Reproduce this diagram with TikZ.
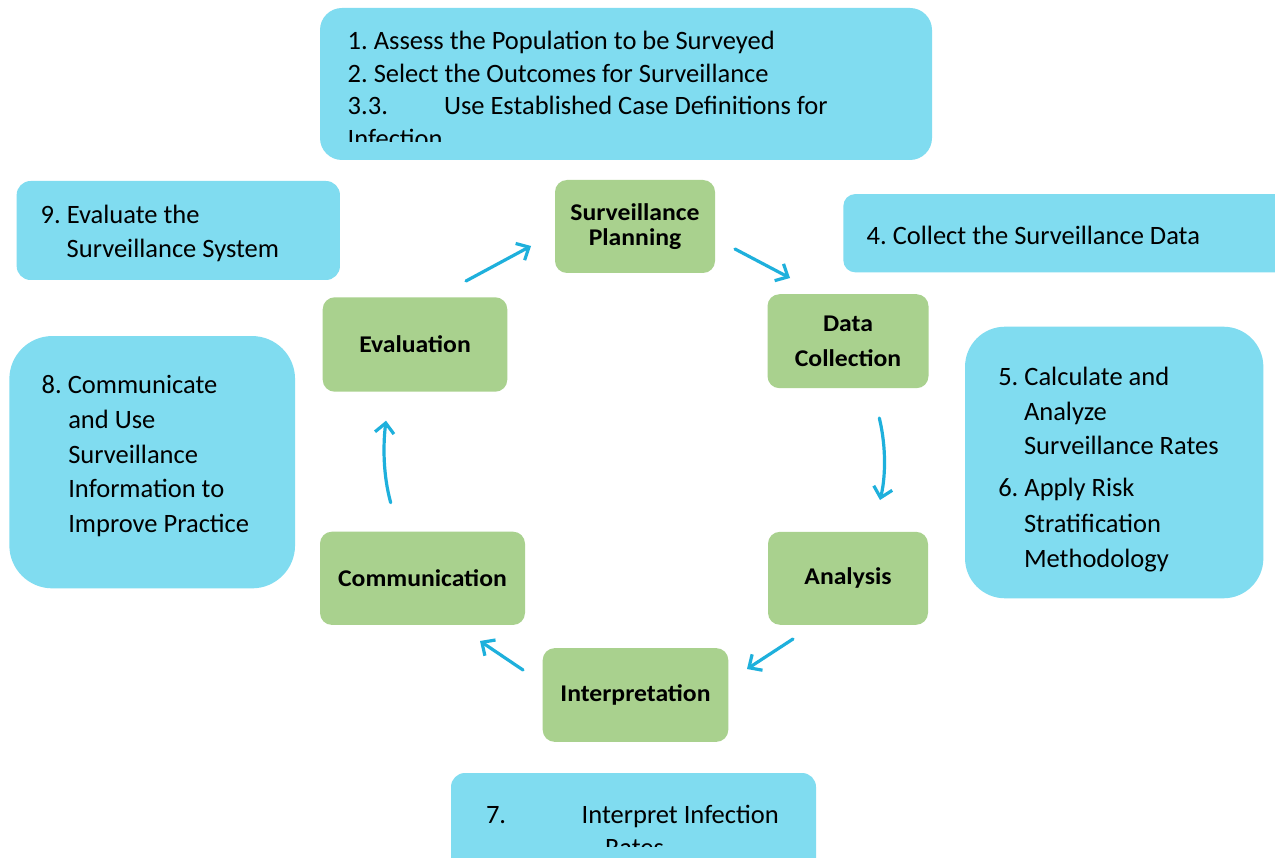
\documentclass[tikz,border=0pt]{standalone}
\usepackage{fontspec}
\setmainfont{Carlito}
\newfontfamily\gfont[FakeStretch=1.07]{Carlito}
\usetikzlibrary{arrows.meta}
\definecolor{boxblue}{RGB}{128,220,240}
\definecolor{boxgreen}{RGB}{169,209,142}
\definecolor{arrowblue}{RGB}{30,176,220}
\frenchspacing
\begin{document}
\begin{tikzpicture}[x=1pt,y=-1pt,
 bluebox/.style={fill=boxblue, draw=none, inner sep=0pt, outer sep=0pt},
 greenbox/.style={fill=boxgreen, draw=none, rounded corners=12pt, inner sep=0pt, outer sep=0pt, align=center, font=\gfont\fontsize{24}{25}\selectfont\bfseries},
 txt/.style={anchor=base west, inner sep=0pt, outer sep=0pt, font=\fontsize{26.5}{32}\selectfont},
 cyc/.style={draw=arrowblue, line width=3.2pt, line cap=round, -{Straight Barb[length=10pt,width=19pt]}}
]
\useasboundingbox (0,0) rectangle (1275,858);
\clip (0,0) rectangle (1275,858);
\fill[white] (0,0) rectangle (1275,858);

% blue boxes
\node[bluebox, rounded corners=22pt, minimum width=612pt, minimum height=152pt] (btop) at (626,84) {};
\node[bluebox, rounded corners=14pt, minimum width=323.3pt, minimum height=99pt] (b9) at (178.3,230.5) {};
\node[bluebox, rounded corners=12pt, minimum width=456.7pt, minimum height=78.3pt] (b4) at (1071.7,233.2) {};
\node[bluebox, rounded corners=40pt, minimum width=298.3pt, minimum height=271.6pt] (b56) at (1114.2,462.5) {};
\node[bluebox, rounded corners=43pt, minimum width=285.7pt, minimum height=252.3pt] (b8) at (152.2,462.2) {};
\node[bluebox, rounded corners=14pt, minimum width=365pt, minimum height=117pt] (b7) at (633.5,831.5) {};

% top box text
\begin{scope}
\clip (320,8) rectangle (932,142);
\node[txt] (t1) at (347.7,49.3) {1. Assess the Population to be Surveyed};
\node[txt] (t2) at (347.7,82.8) {2. Select the Outcomes for Surveillance};
\node[txt] (t3a) at (347.7,114.7) {3.3.};
\node[txt] (t3b) at (444,114.7) {Use Established Case Definitions for};
\node[txt] (t3c) at (347.7,147.5) {Infection};
\end{scope}

% box 9
\node[txt] (t9a) at (40.7,223.3) {9. Evaluate the};
\node[txt] (t9b) at (66.7,257.7) {Surveillance System};

% box 4
\node[txt] (t4) at (866.7,244.3) {4. Collect the Surveillance Data};

% box 5/6
\node[txt] (t5a) at (998.3,385.7) {5. Calculate and};
\node[txt] (t5b) at (1024,420.7) {Analyze};
\node[txt] (t5c) at (1024,455) {Surveillance Rates};
\node[txt] (t6a) at (998.3,496.7) {6. Apply Risk};
\node[txt] (t6b) at (1024,532.7) {Stratification};
\node[txt] (t6c) at (1024,567.3) {Methodology};

% box 8
\node[txt] (t8a) at (41.7,394) {8. Communicate};
\node[txt] (t8b) at (68.3,429) {and Use};
\node[txt] (t8c) at (68.3,464) {Surveillance};
\node[txt] (t8d) at (68.3,497.3) {Information to};
\node[txt] (t8e) at (68.3,532.7) {Improve Practice};

% box 7
\begin{scope}
\clip (451,773) rectangle (816,846);
\node[txt] (t7a) at (486,823) {7.};
\node[txt] (t7b) at (581.7,823) {Interpret Infection};
\node[txt] (t7c) at (605,856) {Rates};
\end{scope}

% green cycle boxes
\node[greenbox, minimum width=160pt, minimum height=93pt] (sp) at (635,226.5) {Surveillance\\Planning};
\node[greenbox, minimum width=161pt, minimum height=94pt, font=\gfont\fontsize{24}{35}\selectfont\bfseries] (dc) at (848,341.2) {Data\\Collection};
\node[greenbox, minimum width=160pt, minimum height=93pt] (an) at (848,578.3) {Analysis};
\node[greenbox, minimum width=185.6pt, minimum height=93.7pt] (ip) at (635.5,695) {Interpretation};
\node[greenbox, minimum width=205pt, minimum height=93.3pt] (cm) at (422.5,578.3) {Communication};
\node[greenbox, minimum width=184.6pt, minimum height=94.4pt] (ev) at (415,344.5) {Evaluation};

% arrow end points
\coordinate (a1s) at (466,281);  \coordinate (a1e) at (531,246);
\coordinate (a2s) at (735,249);  \coordinate (a2e) at (790,278);
\coordinate (a3s) at (879.3,418); \coordinate (a3e) at (880,500);
\coordinate (a4s) at (793,639);  \coordinate (a4e) at (747,669);
\coordinate (a5s) at (523,670);  \coordinate (a5e) at (480,641);
\coordinate (a6s) at (390.7,502.7); \coordinate (a6e) at (386,420.7);

\draw[cyc] (a1s) -- (a1e);
\draw[cyc] (a2s) -- (a2e);
\draw[cyc] (a3s) .. controls (887,450) and (885,480) .. (a3e);
\draw[cyc] (a4s) -- (a4e);
\draw[cyc] (a5s) -- (a5e);
\draw[cyc] (a6s) .. controls (383,475) and (383,445) .. (a6e);
\end{tikzpicture}
\end{document}
